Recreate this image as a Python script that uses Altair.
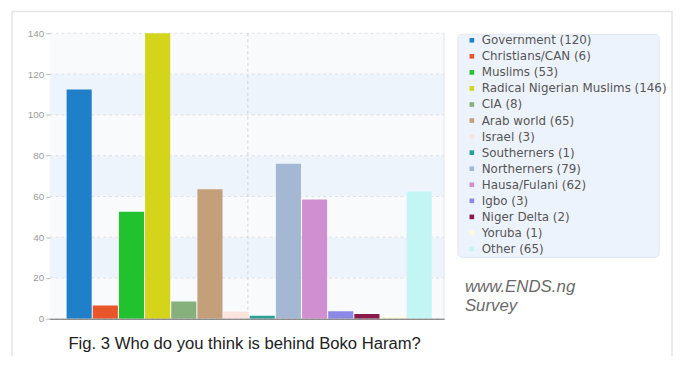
import altair as alt
import pandas as pd

categories = ["Government", "Christians/CAN", "Muslims", "Radical Nigerian Muslims", "CIA",
              "Arab world", "Israel", "Southerners", "Northerners", "Hausa/Fulani", "Igbo",
              "Niger Delta", "Yoruba", "Other"]
legend_counts = [120, 6, 53, 146, 8, 65, 3, 1, 79, 62, 3, 2, 1, 65]
bar_values = [112.5, 6.5, 52.5, 146, 8.5, 63.5, 3.5, 1.5, 76, 58.5, 3.7, 2.3, 1, 62.4]
colors = ["#1f7fc8", "#e8562a", "#22c22e", "#d4d41a", "#86b07c", "#c4a07a", "#fbe3de",
          "#2aa198", "#a4b8d4", "#cf8fd0", "#8b88e8", "#8b1a4a", "#fbfbd8", "#c4f5f5"]
y_ticks = [0, 20, 40, 60, 80, 100, 120, 140]
caption = "Fig. 3 Who do you think is behind Boko Haram?"
source_lines = ["www.ENDS.ng", "Survey"]

labels = [f"{c} ({n})" for c, n in zip(categories, legend_counts)]
df = pd.DataFrame({"cat": categories, "label": labels, "value": bar_values})

bands = pd.DataFrame({
    "y0": y_ticks[:-1],
    "y1": y_ticks[1:],
    "kind": ["a" if i % 2 == 0 else "b" for i in range(len(y_ticks) - 1)],
})

W, H = 398, 288
one = pd.DataFrame({"k": [0]})

yscale = alt.Scale(domain=[0, 140], nice=False)
yaxis = alt.Axis(values=y_ticks, title=None, grid=False, domain=False, zindex=1,
                 tickSize=4, tickColor="#bbb", labelColor="#9a9a9a",
                 labelFontSize=10, labelFont="Liberation Sans", labelPadding=2)

# outer panel
panel = alt.Chart(one).mark_rect(
    fill="white", stroke="#e4e4e4", strokeWidth=1.5
).encode(x=alt.value(-38), x2=alt.value(628), y=alt.value(-22), y2=alt.value(340))

# legend box
legend_box = alt.Chart(one).mark_rect(
    fill="#edf3fc", stroke="#dfe6ef", strokeWidth=1, cornerRadius=4
).encode(x=alt.value(412), x2=alt.value(615), y=alt.value(1), y2=alt.value(226))

band_layer = alt.Chart(bands).mark_rect().encode(
    x=alt.value(0), x2=alt.value(W),
    y=alt.Y("y0:Q", scale=yscale, axis=yaxis),
    y2="y1:Q",
    fill=alt.Fill("kind:N", scale=alt.Scale(domain=["a", "b"], range=["#f9fafb", "#eef4fc"]), legend=None),
)

grid = alt.Chart(pd.DataFrame({"t": y_ticks})).mark_rule(
    color="#dde0e5", strokeDash=[3, 3], strokeWidth=1
).encode(y=alt.Y("t:Q", scale=yscale, axis=yaxis), x=alt.value(0), x2=alt.value(W))

vline = alt.Chart(one).mark_rule(
    color="#d0d4da", strokeDash=[3, 3]
).encode(x=alt.value(200), y=alt.value(0), y2=alt.value(H))

rline = alt.Chart(one).mark_rule(
    color="#e2e5ea"
).encode(x=alt.value(W), y=alt.value(0), y2=alt.value(H))

bars = alt.Chart(df).mark_bar(clip=True).encode(
    x=alt.X("cat:N", sort=categories,
            scale=alt.Scale(paddingInner=0.04, paddingOuter=0.56, align=0.58),
            axis=alt.Axis(labels=False, ticks=False, title=None, domain=True, zindex=1,
                          domainColor="#666", domainWidth=1, grid=False)),
    y=alt.Y("value:Q", scale=yscale, axis=yaxis),
    color=alt.Color("label:N", sort=labels,
                    scale=alt.Scale(domain=labels, range=colors),
                    legend=alt.Legend(orient="none", legendX=420, legendY=1, title=None,
                                      symbolType="square", symbolSize=22,
                                      symbolStrokeWidth=0, labelFontSize=12,
                                      labelFont="DejaVu Sans", labelColor="#555",
                                      rowPadding=4.2, labelOffset=4, labelLimit=250)),
)

src_style = dict(align="left", baseline="middle", fontSize=17, fontStyle="italic",
                 font="Liberation Sans", color="#6a6a6a")
source1 = alt.Chart(pd.DataFrame({"t": [source_lines[0]]})).mark_text(**src_style).encode(
    x=alt.value(419), y=alt.value(256), text="t:N")
source2 = alt.Chart(pd.DataFrame({"t": [source_lines[1]]})).mark_text(**src_style).encode(
    x=alt.value(419), y=alt.value(275), text="t:N")

cap = alt.Chart(pd.DataFrame({"t": [caption]})).mark_text(
    align="left", baseline="middle", fontSize=16.8, font="Liberation Sans", color="#222"
).encode(x=alt.value(19), y=alt.value(314), text="t:N")

chart = alt.layer(panel, legend_box, band_layer, grid, vline, rline, bars,
                  source1, source2, cap).resolve_scale(
    color="independent", fill="independent"
).properties(
    width=W, height=H,
    autosize=alt.AutoSizeParams(type="none"),
    padding={"left": 42, "top": 24, "right": 232, "bottom": 36},
    background="white",
).configure_view(stroke=None)

chart.save("out.html", embed_options={"renderer": "svg", "actions": False})
